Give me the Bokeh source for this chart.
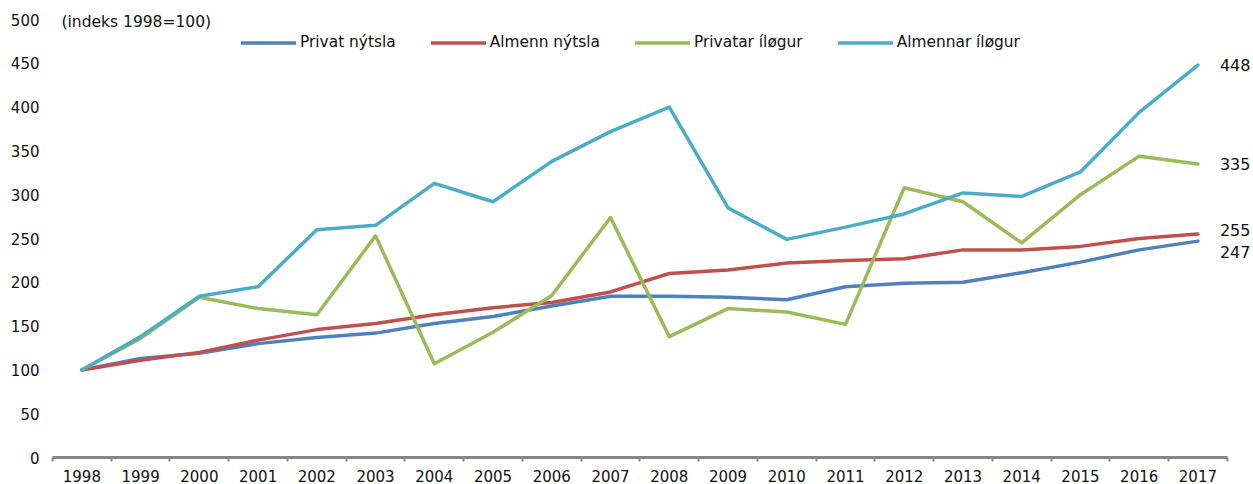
from bokeh.plotting import figure
from bokeh.models import Range1d, FixedTicker, Legend, LegendItem, Label
from bokeh.embed import file_html
from bokeh.resources import INLINE

# ---- data ----
years = list(range(1998, 2018))
tick_labels = [str(y) for y in years]
y_ticks = list(range(0, 501, 50))

privat_nytsla = [100, 113, 119, 130, 137, 142, 153, 161, 173, 184, 184, 183, 180, 195, 199, 200, 211, 223, 237, 247]
almenn_nytsla = [100, 111, 120, 134, 146, 153, 163, 171, 177, 189, 210, 214, 222, 225, 227, 237, 237, 241, 250, 255]
privatar_ilogur = [100, 136, 183, 170, 163, 253, 107, 143, 185, 274, 138, 170, 166, 152, 308, 292, 245, 300, 344, 335]
almennar_ilogur = [100, 138, 184, 195, 260, 265, 313, 292, 338, 372, 400, 285, 249, 263, 278, 302, 298, 326, 394, 448]

series_names = ["Privat nýtsla", "Almenn nýtsla", "Privatar íløgur", "Almennar íløgur"]
series_values = [privat_nytsla, almenn_nytsla, privatar_ilogur, almennar_ilogur]
series_colors = ["#4F81BD", "#C0504D", "#9BBB59", "#4BACC6"]
end_label_offsets = [-11, 4, 0, 0]

FONT = "DejaVu Sans"

frame_w = 1198
frame_h = 450
px_per_year = 58.74
px_per_unit = 438 / 500
p = figure(
    frame_width=frame_w, frame_height=frame_h,
    x_range=Range1d(years[0] - 0.5, years[0] - 0.5 + frame_w / px_per_year),
    y_range=Range1d(0, frame_h / px_per_unit),
    output_backend="svg", toolbar_location=None,
    min_border_left=52, min_border_right=0, min_border_top=7, min_border_bottom=5,
    background_fill_color="white", border_fill_color="white",
)
p.outline_line_color = None
p.xgrid.visible = False
p.ygrid.visible = False

# x axis
xa = p.xaxis[0]
xa.ticker = FixedTicker(ticks=years, minor_ticks=[y - 0.5 for y in years] + [years[-1] + 0.5])
xa.major_label_overrides = {y: t for y, t in zip(years, tick_labels)}
xa.bounds = (years[0] - 0.5, years[-1] + 0.5)
xa.axis_line_color = "#868686"
xa.axis_line_width = 3
xa.major_tick_line_color = None
xa.major_tick_out = 0
xa.major_tick_in = 0
xa.minor_tick_line_color = "#868686"
xa.minor_tick_line_width = 2
xa.minor_tick_out = 4
xa.minor_tick_in = 0
xa.major_label_standoff = 8
xa.major_label_text_font = FONT
xa.major_label_text_font_size = "15px"
xa.major_label_text_color = "#111111"

# y axis
ya = p.yaxis[0]
ya.ticker = FixedTicker(ticks=y_ticks)
ya.axis_line_color = None
ya.major_tick_line_color = None
ya.minor_tick_line_color = None
ya.major_tick_out = 0
ya.major_tick_in = 0
ya.major_label_standoff = 13
ya.major_label_text_font = FONT
ya.major_label_text_font_size = "15px"
ya.major_label_text_color = "#111111"

items = []
for name, vals, color, off in zip(series_names, series_values, series_colors, end_label_offsets):
    r = p.line(years, vals, line_color=color, line_width=3.5, line_join="round", line_cap="round")
    items.append(LegendItem(label=name, renderers=[r]))
    p.add_layout(Label(x=years[-1], y=vals[-1], text=str(vals[-1]), x_offset=22, y_offset=off,
                       text_baseline="middle", text_align="left", text_font=FONT,
                       text_font_size="16px", text_color="#111111"))

legend = Legend(items=items, orientation="horizontal", location=(189, 406),
                glyph_width=55, glyph_height=15, label_height=15, label_standoff=4,
                spacing=35, padding=0, margin=0,
                border_line_color=None, background_fill_alpha=0,
                label_text_font=FONT, label_text_font_size="15.4px", label_text_color="#111111")
p.add_layout(legend)

p.add_layout(Label(x=9, y=436, x_units="screen", y_units="screen", text="(indeks 1998=100)",
                   text_baseline="middle", text_font=FONT, text_font_size="15.5px",
                   text_color="#111111"))

open("out.html", "w").write(file_html(p, INLINE))
